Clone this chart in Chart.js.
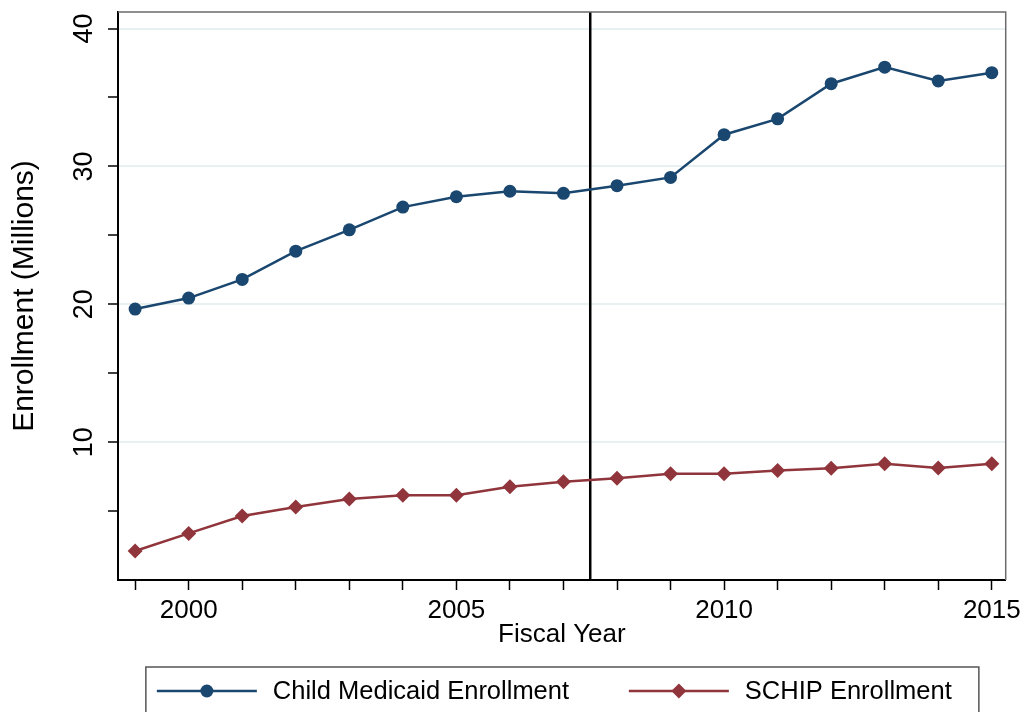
<!DOCTYPE html>
<html>
<head>
    <title>Child Medicaid and SCHIP Enrollment</title>
    <script src="https://cdn.jsdelivr.net/npm/chart.js"></script>
    <style>
        body { margin: 0; padding: 0; background: #ffffff; }
        #wrap { width: 1026px; height: 712px; }
    </style>
</head>
<body>
    <div id="wrap"><canvas id="enrollChart"></canvas></div>
    <script>
        // Fiscal years and enrollment (millions)
        const years = [1999, 2000, 2001, 2002, 2003, 2004, 2005, 2006, 2007, 2008, 2009, 2010, 2011, 2012, 2013, 2014, 2015];
        const medicaid = [19.65, 20.45, 21.8, 23.85, 25.4, 27.05, 27.8, 28.2, 28.05, 28.6, 29.2, 32.3, 33.45, 36.0, 37.2, 36.2, 36.8];
        const schip = [2.1, 3.38, 4.64, 5.3, 5.87, 6.15, 6.15, 6.77, 7.12, 7.38, 7.7, 7.7, 7.95, 8.1, 8.43, 8.12, 8.43];
        const yTickValues = [0, 5, 10, 15, 20, 25, 30, 35, 40];
        const yLabelValues = [10, 20, 30, 40];
        const xLabelYears = [2000, 2005, 2010, 2015];
        const cutoffYear = 2007.5;

        const NAVY = '#1a476f';
        const MAROON = '#90353b';
        const GRID = '#e8f0f2';
        const FONT = '"Liberation Sans", Arial, sans-serif';

        // Plot box, vertical cutoff line, rotated y labels and the legend
        const stataDecor = {
            id: 'stataDecor',
            beforeDatasetsDraw(chart) {
                const { ctx, chartArea, scales } = chart;
                const x = scales.x.getPixelForValue(cutoffYear);
                ctx.save();
                ctx.strokeStyle = '#000';
                ctx.lineWidth = 2.5;
                ctx.beginPath();
                ctx.moveTo(x, chartArea.top);
                ctx.lineTo(x, chartArea.bottom);
                ctx.stroke();
                ctx.restore();
            },
            afterDraw(chart) {
                const { ctx, chartArea, scales } = chart;
                ctx.save();
                // top/right frame
                ctx.strokeStyle = '#6b6b6b';
                ctx.lineWidth = 1.5;
                ctx.beginPath();
                ctx.moveTo(chartArea.left, chartArea.top);
                ctx.lineTo(chartArea.right, chartArea.top);
                ctx.lineTo(chartArea.right, chartArea.bottom);
                ctx.stroke();

                // y tick labels, vertical like the axis title
                ctx.fillStyle = '#000';
                ctx.font = '27px ' + FONT;
                ctx.textAlign = 'center';
                ctx.textBaseline = 'middle';
                yLabelValues.forEach(v => {
                    const py = scales.y.getPixelForValue(v);
                    ctx.save();
                    ctx.translate(chartArea.left - 34, py);
                    ctx.rotate(-Math.PI / 2);
                    ctx.fillText(String(v), 0, 1);
                    ctx.restore();
                });

                // legend
                const cx = (chartArea.left + chartArea.right) / 2;
                const boxL = cx - 416, boxR = cx + 417, boxT = 667;
                ctx.strokeStyle = '#555';
                ctx.lineWidth = 1.5;
                ctx.strokeRect(boxL, boxT, boxR - boxL, 60);
                const ly = 691;
                const items = [
                    { x0: boxL + 11, ds: chart.data.datasets[0] },
                    { x0: boxL + 483, ds: chart.data.datasets[1] }
                ];
                ctx.font = '25.5px ' + FONT;
                ctx.textAlign = 'left';
                items.forEach(it => {
                    ctx.strokeStyle = it.ds.borderColor;
                    ctx.lineWidth = it.ds.borderWidth;
                    ctx.beginPath();
                    ctx.moveTo(it.x0, ly);
                    ctx.lineTo(it.x0 + 100, ly);
                    ctx.stroke();
                    ctx.fillStyle = it.ds.borderColor;
                    ctx.beginPath();
                    if (it.ds.pointStyle === 'rectRot') {
                        const r = it.ds.pointRadius;
                        ctx.moveTo(it.x0 + 50, ly - r);
                        ctx.lineTo(it.x0 + 50 + r, ly);
                        ctx.lineTo(it.x0 + 50, ly + r);
                        ctx.lineTo(it.x0 + 50 - r, ly);
                        ctx.closePath();
                    } else {
                        ctx.arc(it.x0 + 50, ly, it.ds.pointRadius, 0, Math.PI * 2);
                    }
                    ctx.fill();
                    ctx.fillStyle = '#000';
                    ctx.fillText(it.ds.label, it.x0 + 116, ly + 1);
                });
                ctx.restore();
            }
        };

        const ctx = document.getElementById('enrollChart').getContext('2d');
        new Chart(ctx, {
            type: 'line',
            data: {
                datasets: [{
                    label: 'Child Medicaid Enrollment',
                    data: years.map((yr, i) => ({ x: yr, y: medicaid[i] })),
                    borderColor: NAVY,
                    backgroundColor: NAVY,
                    borderWidth: 2.5,
                    pointStyle: 'circle',
                    pointRadius: 6.5,
                    pointBorderWidth: 0,
                    tension: 0
                }, {
                    label: 'SCHIP Enrollment',
                    data: years.map((yr, i) => ({ x: yr, y: schip[i] })),
                    borderColor: MAROON,
                    backgroundColor: MAROON,
                    borderWidth: 2.5,
                    pointStyle: 'rectRot',
                    pointRadius: 7.5,
                    pointBorderWidth: 0,
                    tension: 0
                }]
            },
            options: {
                responsive: true,
                maintainAspectRatio: false,
                animation: false,
                layout: { padding: { left: 0, top: 12, right: 18, bottom: 62 } },
                plugins: {
                    legend: { display: false },
                    tooltip: { enabled: false }
                },
                scales: {
                    x: {
                        type: 'linear',
                        min: 1998.68,
                        max: 2015.26,
                        afterBuildTicks: scale => { scale.ticks = years.map(v => ({ value: v })); },
                        afterFit: scale => { scale.height = 70; },
                        border: { color: '#000', width: 2 },
                        grid: {
                            drawOnChartArea: false,
                            color: 'rgba(0,0,0,0)',
                            tickColor: '#000',
                            tickLength: 10,
                            tickWidth: 1.5
                        },
                        ticks: {
                            autoSkip: false,
                            maxRotation: 0,
                            padding: 5,
                            color: '#000',
                            font: { family: FONT, size: 26 },
                            callback: v => xLabelYears.includes(v) ? String(v) : ''
                        },
                        title: {
                            display: true,
                            text: 'Fiscal Year',
                            color: '#000',
                            font: { family: FONT, size: 26 },
                            padding: { top: 0, bottom: 0 }
                        }
                    },
                    y: {
                        min: 0,
                        max: 41.2,
                        afterBuildTicks: scale => { scale.ticks = yTickValues.map(v => ({ value: v })); },
                        afterFit: scale => { scale.width = 118; },
                        border: { color: '#000', width: 2 },
                        grid: {
                            color: c => yLabelValues.includes(c.tick.value) ? GRID : 'rgba(0,0,0,0)',
                            lineWidth: 2,
                            tickColor: c => c.tick.value === 0 ? 'rgba(0,0,0,0)' : '#000',
                            tickLength: 10,
                            tickWidth: 1.5
                        },
                        ticks: { display: false },
                        title: {
                            display: true,
                            text: 'Enrollment (Millions)',
                            color: '#000',
                            font: { family: FONT, size: 30 },
                            padding: { top: 7, bottom: 0 }
                        }
                    }
                }
            },
            plugins: [stataDecor]
        });
    </script>
</body>
</html>
